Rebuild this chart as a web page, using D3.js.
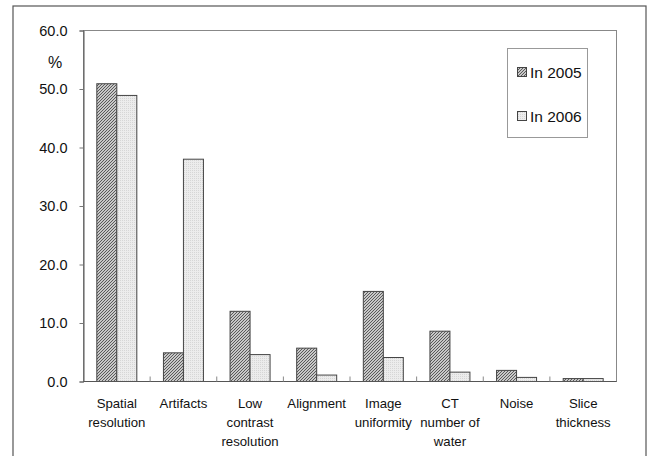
<!DOCTYPE html>
<html><head><meta charset="utf-8">
<script src="https://cdn.jsdelivr.net/npm/d3@7"></script>
<style>body{margin:0;background:#fff}svg{display:block}text{font-family:"Liberation Sans",Arial,sans-serif;fill:#111}</style>
</head><body><svg id="c" width="647" height="456"></svg>
<script>
const categories = [["Spatial","resolution"],["Artifacts"],["Low","contrast","resolution"],["Alignment"],["Image","uniformity"],["CT","number of","water"],["Noise"],["Slice","thickness"]];
const series2005 = [50.9, 4.9, 12.0, 5.7, 15.4, 8.6, 1.9, 0.5];
const series2006 = [48.9, 38.0, 4.6, 1.1, 4.1, 1.6, 0.7, 0.5];
const yTicks = [0, 10, 20, 30, 40, 50, 60];
const seriesNames = ["In 2005", "In 2006"];

const svg = d3.select("#c");
const defs = svg.append("defs");
const p1 = defs.append("pattern").attr("id","hatch").attr("patternUnits","userSpaceOnUse").attr("width",3).attr("height",3);
p1.append("rect").attr("width",3).attr("height",3).attr("fill","#c8c8c8");
p1.append("path").attr("d","M-1,1 l2,-2 M0,3 l3,-3 M2,4 l2,-2").attr("stroke","#5a5a5a").attr("stroke-width",1);
const p2 = defs.append("pattern").attr("id","dots").attr("patternUnits","userSpaceOnUse").attr("width",2).attr("height",2);
p2.append("rect").attr("width",2).attr("height",2).attr("fill","#ececec");
p2.append("rect").attr("width",1).attr("height",1).attr("fill","#d6d6d6");

// outer frame
svg.append("rect").attr("x",13).attr("y",6).attr("width",633).attr("height",470).attr("fill","none").attr("stroke","#555").attr("stroke-width",1.2);

const L = 83.5, R = 616.5, T = 30.5, B = 381.5;
const x = d3.scaleBand().domain(d3.range(categories.length)).range([L, R]);
const y = d3.scaleLinear().domain([0, 60]).range([B, T]);

// plot box
svg.append("rect").attr("x",L).attr("y",T).attr("width",R-L).attr("height",B-T).attr("fill","none").attr("stroke","#888").attr("stroke-width",1);

const bw = 20;
const g = svg.append("g");
categories.forEach((c,i)=>{
  const cx = x(i) + x.bandwidth()/2;
  g.append("rect").attr("x",cx-bw).attr("y",y(series2005[i])).attr("width",bw).attr("height",B-y(series2005[i]))
    .attr("fill","url(#hatch)").attr("stroke","#444").attr("stroke-width",1);
  g.append("rect").attr("x",cx).attr("y",y(series2006[i])).attr("width",bw).attr("height",B-y(series2006[i]))
    .attr("fill","url(#dots)").attr("stroke","#444").attr("stroke-width",1);
});

// y axis
const ya = d3.axisLeft(y).tickValues(yTicks).tickFormat(d3.format(".1f")).tickSize(4).tickPadding(12);
const yg = svg.append("g").attr("transform",`translate(${L},0)`).call(ya);
yg.select(".domain").attr("stroke","#555");
yg.selectAll(".tick line").attr("stroke","#777");
yg.selectAll("text").attr("font-size",14.5).attr("fill","#111").attr("font-family","'Liberation Sans',Arial,sans-serif");

// x axis line and ticks at boundaries
svg.append("line").attr("x1",L).attr("x2",R).attr("y1",B).attr("y2",B).attr("stroke","#555");
d3.range(1,categories.length).forEach(i=>{
  svg.append("line").attr("x1",x(i)).attr("x2",x(i)).attr("y1",B).attr("y2",B-5).attr("stroke","#888");
});

// x labels
categories.forEach((c,i)=>{
  const t = svg.append("text").attr("text-anchor","middle").attr("font-size",13.2)
    .attr("x", x(i)+x.bandwidth()/2).attr("y",408);
  c.forEach((line,k)=> t.append("tspan").attr("x",x(i)+x.bandwidth()/2).attr("y",408+k*19).text(line));
});

// % label
svg.append("text").attr("x",55).attr("y",68).attr("text-anchor","middle").attr("font-size",16).text("%");

// legend
svg.append("rect").attr("x",507.5).attr("y",48.5).attr("width",80).attr("height",89).attr("fill","#fff").attr("stroke","#999");
const fills = ["url(#hatch)","url(#dots)"];
seriesNames.forEach((n,k)=>{
  const yy = 67 + k*44;
  svg.append("rect").attr("x",517.5).attr("y",yy+0.5).attr("width",9).attr("height",9).attr("fill",fills[k]).attr("stroke","#444");
  svg.append("text").attr("x",530).attr("y",yy+10.5).attr("font-size",15.5).text(n);
});
</script></body></html>
